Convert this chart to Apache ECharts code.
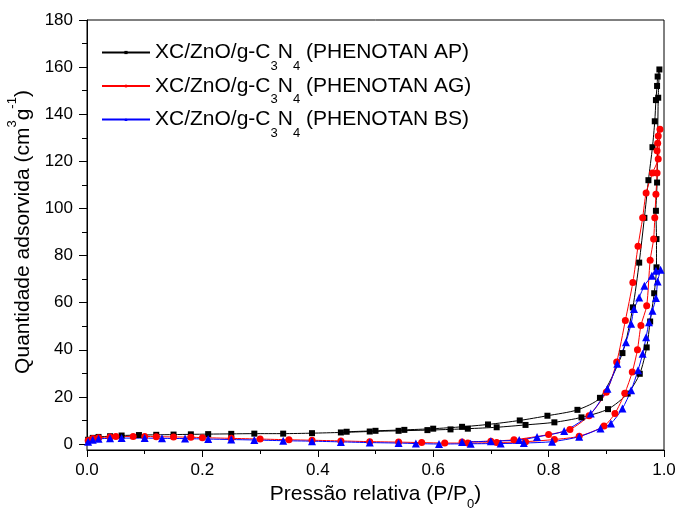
<!DOCTYPE html>
<html>
<head>
<meta charset="utf-8">
<script src="https://cdn.jsdelivr.net/npm/echarts@6/dist/echarts.min.js"></script>
<style>
  html, body { margin: 0; padding: 0; background: #fff; }
  #chart { width: 679px; height: 508px; }
</style>
</head>
<body>
<div id="chart"></div>
<script>
// [P/P0, volume] pairs, adsorption (going up) then desorption (coming down)
const apAdsorption = [
  [0.002, 1.8], [0.01, 2.6], [0.02, 3.0], [0.04, 3.3], [0.06, 3.6], [0.09, 3.8], [0.12, 3.9],
  [0.15, 4.0], [0.18, 4.1], [0.21, 4.2], [0.25, 4.3], [0.29, 4.4], [0.34, 4.4], [0.39, 4.6],
  [0.44, 4.9], [0.49, 5.3], [0.54, 5.6], [0.59, 5.9], [0.63, 6.2], [0.66, 6.5], [0.71, 7.1],
  [0.76, 8.1], [0.81, 9.2], [0.857, 11.3], [0.903, 14.8], [0.937, 21.4], [0.958, 29.8],
  [0.970, 41], [0.976, 52], [0.983, 64], [0.987, 75], [0.987, 87], [0.986, 99], [0.988, 111],
  [0.990, 147], [0.992, 159]
]
const apDesorption = [
  [0.992, 159], [0.989, 156], [0.988, 152], [0.986, 146], [0.984, 137], [0.980, 126],
  [0.973, 112], [0.966, 96], [0.957, 77], [0.946, 58], [0.928, 38.6], [0.889, 19.6],
  [0.85, 14.5], [0.798, 12.0], [0.75, 10.0], [0.695, 8.3], [0.65, 7.3], [0.6, 6.5],
  [0.55, 6.0], [0.5, 5.6], [0.45, 5.2]
]

const agAdsorption = [
  [0.002, 1.5], [0.01, 2.3], [0.02, 2.7], [0.04, 3.0], [0.05, 3.2], [0.08, 3.2], [0.1, 3.2],
  [0.12, 3.1], [0.15, 3.0], [0.18, 2.9], [0.2, 2.7], [0.25, 2.4], [0.3, 2.1], [0.35, 1.8],
  [0.39, 1.6], [0.44, 1.3], [0.49, 1.0], [0.54, 0.8], [0.58, 0.6], [0.62, 0.4], [0.66, 0.4],
  [0.71, 0.6], [0.76, 1.0], [0.81, 1.9], [0.853, 3.3], [0.896, 7.6], [0.915, 13],
  [0.932, 21.5], [0.945, 30.6], [0.954, 40], [0.96, 50.3], [0.970, 58.7], [0.976, 78],
  [0.982, 87], [0.984, 96], [0.986, 106], [0.988, 115], [0.988, 124.5], [0.989, 127.7],
  [0.990, 130.8], [0.993, 133.6]
]
const agDesorption = [
  [0.993, 133.6], [0.990, 121], [0.980, 115], [0.969, 106.6], [0.963, 96], [0.955, 84],
  [0.946, 68.6], [0.933, 52.4], [0.918, 34.8], [0.90, 22], [0.87, 12], [0.837, 6.2],
  [0.8, 4.0], [0.74, 1.8], [0.7, 1.2], [0.65, 0.9]
]

const bsAdsorption = [
  [0.002, 1.0], [0.01, 1.8], [0.02, 2.2], [0.04, 2.4], [0.06, 2.5], [0.1, 2.5], [0.13, 2.4],
  [0.17, 2.3], [0.21, 2.1], [0.25, 1.9], [0.29, 1.7], [0.34, 1.4], [0.39, 1.2], [0.44, 0.9],
  [0.49, 0.6], [0.54, 0.4], [0.57, 0.2], [0.61, 0.0], [0.665, 0.1], [0.717, 0.2],
  [0.757, 0.4], [0.806, 1.0], [0.853, 3.1], [0.89, 6.6], [0.908, 8.7], [0.928, 15.1],
  [0.943, 22.8], [0.955, 31.3], [0.963, 38.3], [0.969, 45.3], [0.974, 51.7], [0.980, 56.6],
  [0.986, 62], [0.989, 69], [0.994, 74]
]
const bsDesorption = [
  [0.994, 74], [0.986, 73.5], [0.979, 71.4], [0.966, 67.2], [0.957, 62.2], [0.948, 57.3],
  [0.943, 51], [0.934, 43.2], [0.919, 34.1], [0.902, 23.5], [0.873, 12.9], [0.827, 5.5],
  [0.78, 3.0], [0.749, 1.7], [0.7, 1.2], [0.65, 0.8]
]

const seriesNames = ['AP', 'AG', 'BS']
const xTicks = { min: 0, max: 1, interval: 0.2 }
const yTicks = { min: 0, max: 180, interval: 20 }

const FONT = 'Liberation Sans, Arial, sans-serif'
const AXIS_GAP = 6 // x axis sits a little below y = 0, like the Origin frame

const isotherm = (name, ads, des, color, symbol, size) => ({
  name,
  type: 'line',
  data: ads.concat(des.slice(1)),
  smooth: 0.25,
  symbol,
  symbolSize: size,
  showAllSymbol: true,
  clip: false,
  lineStyle: { color, width: 1 },
  itemStyle: { color },
  emphasis: { disabled: true },
  z: 3
})

const chart = echarts.init(document.getElementById('chart'))

chart.setOption({
  backgroundColor: '#fff',
  animation: false,
  grid: { left: 87, right: 15, top: 20, bottom: 64, outerBoundsMode: 'none' },
  legend: {
    orient: 'vertical',
    left: 101,
    top: 42,
    padding: 0,
    itemWidth: 48,
    itemHeight: 4,
    itemGap: 3,
    data: seriesNames,
    formatter: (n) => '{t|XC/ZnO/g-C}{s|3}{t|N}{s|4}{t| (PHENOTAN ' + n + ')}',
    textStyle: {
      fontFamily: FONT,
      color: '#000',
      rich: {
        t: { fontSize: 21, fontFamily: FONT, color: '#000', lineHeight: 26 },
        s: { fontSize: 13, fontFamily: FONT, color: '#000', verticalAlign: 'bottom', lineHeight: 16, padding: [0, 0, -7, 0] }
      }
    }
  },
  xAxis: {
    type: 'value',
    min: xTicks.min,
    max: xTicks.max,
    interval: xTicks.interval,
    offset: AXIS_GAP,
    name: '{t|Pressão relativa (P/P}{s|0}{t|)}',
    nameLocation: 'middle',
    nameGap: 34,
    nameTextStyle: {
      rich: {
        t: { fontSize: 21, fontFamily: FONT, color: '#000' },
        s: { fontSize: 13, fontFamily: FONT, color: '#000', verticalAlign: 'bottom', padding: [0, 0, -6, 0] }
      }
    },
    axisLine: { show: true, onZero: false, lineStyle: { color: '#000', width: 1 } },
    axisTick: { show: true, inside: false, length: 7, lineStyle: { color: '#000' } },
    minorTick: { show: true, splitNumber: 2, length: 4, lineStyle: { color: '#000' } },
    axisLabel: {
      fontSize: 17, fontFamily: FONT, color: '#000', margin: 12,
      formatter: (v) => v.toFixed(1)
    },
    splitLine: { show: false }
  },
  yAxis: {
    type: 'value',
    min: yTicks.min,
    max: yTicks.max,
    interval: yTicks.interval,
    name: '{t|Quantidade adsorvida (cm}{p|3}{t|g}{p|-1}{t|)}',
    nameLocation: 'middle',
    nameGap: 52,
    nameRotate: 90,
    nameTextStyle: {
      rich: {
        t: { fontSize: 21, fontFamily: FONT, color: '#000' },
        p: { fontSize: 13, fontFamily: FONT, color: '#000', verticalAlign: 'top', padding: [-7, 0, 0, 0] }
      }
    },
    axisLine: { show: true, onZero: false, lineStyle: { color: '#000', width: 1 } },
    axisTick: { show: true, inside: false, length: 8, lineStyle: { color: '#000' } },
    minorTick: { show: true, splitNumber: 2, length: 5, lineStyle: { color: '#000' } },
    axisLabel: { fontSize: 17, fontFamily: FONT, color: '#000', margin: 14 },
    splitLine: { show: false }
  },
  series: [
    isotherm('AP', apAdsorption, apDesorption, '#000000', 'rect', 6),
    isotherm('AG', agAdsorption, agDesorption, '#ff0000', 'circle', 7),
    isotherm('BS', bsAdsorption, bsDesorption, '#0000ff', 'triangle', 8)
  ]
})

// frame around the plot, taken from the grid corners
const topLeft = chart.convertToPixel({ gridIndex: 0 }, [xTicks.min, yTicks.max])
const bottomRight = chart.convertToPixel({ gridIndex: 0 }, [xTicks.max, yTicks.min])
chart.setOption({
  graphic: [{
    type: 'rect',
    shape: {
      x: topLeft[0],
      y: topLeft[1],
      width: bottomRight[0] - topLeft[0],
      height: bottomRight[1] - topLeft[1] + AXIS_GAP
    },
    style: { fill: 'none', stroke: '#000', lineWidth: 1 },
    silent: true,
    z: 1
  }]
})
</script>
</body>
</html>
